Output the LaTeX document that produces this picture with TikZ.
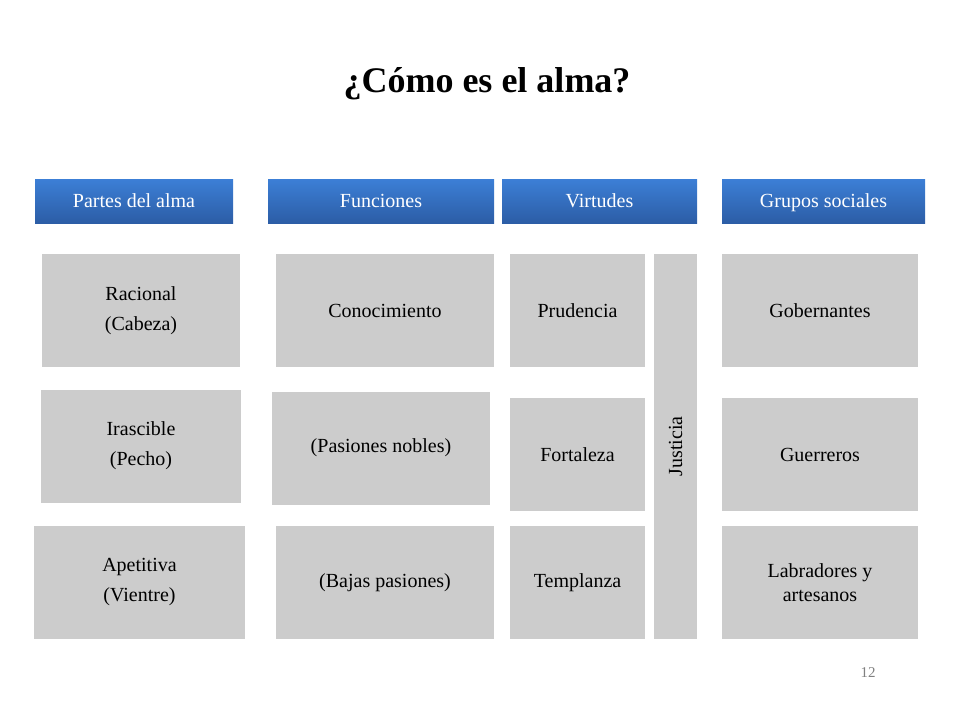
\documentclass[tikz,border=0pt]{standalone}
\usepackage{fontspec}
\setmainfont{Liberation Serif}
\usetikzlibrary{positioning}
\definecolor{hdtop}{HTML}{3C7FD6}
\definecolor{hdbot}{HTML}{2C5DA6}
\definecolor{cellgray}{HTML}{CCCCCC}
\tikzset{
  head/.style={top color=hdtop, bottom color=hdbot, text=white, minimum height=44pt, inner sep=0pt, font=\fontsize{20}{22}\selectfont},
  cell/.style={fill=cellgray, minimum height=113pt, inner sep=0pt, align=center, font=\fontsize{20}{30}\selectfont},
}
\begin{document}
\begin{tikzpicture}[x=1pt, y=-1pt]
      \useasboundingbox (0,0) rectangle (960,720);
      \node (title)[font=\fontsize{36}{40}\selectfont\bfseries] at (487,84) {¿Cómo es el alma?};
      % headers
      \node (h1)[head, minimum width=198pt, text height=28pt, text depth=16pt] at (134,201) {Partes del alma};
      \node (h2)[head, minimum width=226pt] at (381,201) {Funciones};
      \node (h3)[head, minimum width=195pt] at (599.5,201) {Virtudes};
      \node (h4)[head, minimum width=203pt, text height=28pt, text depth=16pt] at (823.5,201) {Grupos sociales};
      % parts
      \node (p1)[cell, minimum width=198pt] at (141,310.5) {Racional\\(Cabeza)};
      \node (p2)[cell, minimum width=200pt] at (141,446) {Irascible\\(Pecho)};
      \node (p3)[cell, minimum width=211pt] at (139.5,582) {Apetitiva\\(Vientre)};
      % functions
      \node (f1)[cell, minimum width=218pt] at (385,310.5) {Conocimiento};
      \node (f2)[cell, minimum width=218pt] at (381,448) {(Pasiones nobles)};
      \node (f3)[cell, minimum width=218pt] at (385,582.5) {(Bajas pasiones)};
      % virtues
      \node (v1)[cell, minimum width=135pt] at (577.5,310.5) {Prudencia};
      \node (v2)[cell, minimum width=135pt] at (577.5,454.5) {Fortaleza};
      \node (v3)[cell, minimum width=135pt] at (577.5,582.5) {Templanza};
      \node (just)[cell, minimum width=385pt, minimum height=43pt, rotate=90] at (675.5,446.5) {Justicia};
      % groups
      \node (g1)[cell, minimum width=196pt] at (820,310.5) {Gobernantes};
      \node (g2)[cell, minimum width=196pt] at (820,454.5) {Guerreros};
      \node (g3)[cell, minimum width=196pt, font=\fontsize{20}{24}\selectfont] at (820,582.5) {Labradores y\\artesanos};
      \node (num)[text=gray, font=\fontsize{15}{18}\selectfont] at (868,673) {12};
\end{tikzpicture}
\end{document}
